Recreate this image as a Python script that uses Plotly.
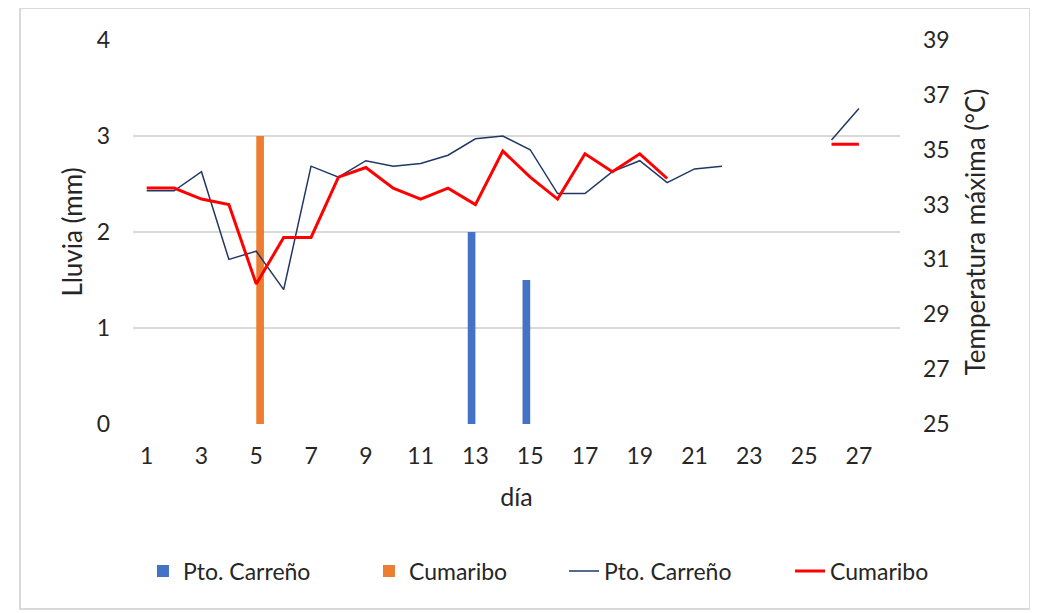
import plotly.graph_objects as go

days = list(range(1, 28))
x_tick_labels = [str(d) for d in range(1, 28, 2)]

# rainfall (mm)
rain_carreno_days = [13, 15]
rain_carreno = [2.0, 1.5]
rain_cumaribo_days = [5]
rain_cumaribo = [3.0]

# maximum temperature (°C)
tmax_carreno = [33.5, 33.5, 34.2, 31.0, 31.3, 29.9, 34.4, 34.0, 34.6, 34.4,
                34.5, 34.8, 35.4, 35.5, 35.0, 33.4, 33.4, 34.2, 34.6, 33.8,
                34.3, 34.4, None, None, None, 35.35, 36.5]
tmax_cumaribo = [33.6, 33.6, 33.2, 33.0, 30.1, 31.8, 31.8, 34.0, 34.35, 33.6,
                 33.2, 33.6, 33.0, 34.95, 34.0, 33.2, 34.85, 34.2, 34.85, 33.95,
                 None, None, None, None, None, 35.2, 35.2]

FONT = "Lato"
TXT = "#262626"
BAR_W = 0.28

fig = go.Figure()
fig.add_trace(go.Bar(x=rain_carreno_days, y=rain_carreno, name="Pto. Carreño",
                     width=BAR_W, offset=-BAR_W, legend="legend",
                     marker=dict(color="#4472C4", line=dict(width=0))))
fig.add_trace(go.Bar(x=rain_cumaribo_days, y=rain_cumaribo, name="Cumaribo",
                     width=BAR_W, offset=0, legend="legend",
                     marker=dict(color="#ED7D31", line=dict(width=0))))
fig.add_trace(go.Scatter(x=days, y=tmax_carreno, name="Pto. Carreño", mode="lines",
                         line=dict(color="#203864", width=1.5), yaxis="y2",
                         connectgaps=False, legend="legend2"))
fig.add_trace(go.Scatter(x=days, y=tmax_cumaribo, name="Cumaribo", mode="lines",
                         line=dict(color="#FF0000", width=3), yaxis="y2",
                         connectgaps=False, legend="legend2"))

legend_style = dict(orientation="h", xanchor="left", y=-0.383, yanchor="middle",
                    font=dict(family=FONT, size=23, color=TXT), traceorder="normal",
                    itemwidth=30, entrywidth=181, bgcolor="rgba(0,0,0,0)")

# page body adds an 8px offset; margins compensate so plot sits at x 133-900, y 40-424
fig.update_layout(
    width=1038, height=613,
    margin=dict(l=125, r=146, t=32, b=197, autoexpand=False),
    paper_bgcolor="white", plot_bgcolor="white",
    font=dict(family=FONT, size=24, color=TXT),
    barmode="overlay",
    showlegend=True,
    legend=dict(x=0.013, **legend_style),
    legend2=dict(x=0.562, **legend_style),
    xaxis=dict(range=[0.5, 28.5], tickmode="array", automargin=False,
               tickvals=list(range(1, 28, 2)), ticktext=x_tick_labels,
               showgrid=False, zeroline=False, showline=False, ticks="",
               ticklabelstandoff=16, tickfont=dict(size=23),
               title=dict(text="día", font=dict(size=25, color=TXT), standoff=20)),
    yaxis=dict(range=[0, 4], dtick=1, showgrid=True, gridcolor="#D9D9D9", gridwidth=1.5,
               zeroline=False, showline=False, ticks="", ticklabelstandoff=22,
               automargin=False, tickfont=dict(size=23),
               title=dict(text="Lluvia (mm)", font=dict(size=26, color=TXT), standoff=6)),
    yaxis2=dict(range=[25, 39], tickmode="array", tickvals=list(range(25, 40, 2)),
                overlaying="y", side="right", showgrid=False, zeroline=False,
                showline=False, ticks="", ticklabelstandoff=22, automargin=False,
                tickfont=dict(size=23),
                title=dict(text="Temperatura máxima (°C)", font=dict(size=26, color=TXT),
                           standoff=18)),
    shapes=[dict(type="rect", xref="paper", yref="paper",
                 x0=-0.1473, x1=1.1695, y0=-0.4818, y1=1.0833,
                 line=dict(color="#D9D9D9", width=2), layer="below")],
)

fig.write_html("out.html")
